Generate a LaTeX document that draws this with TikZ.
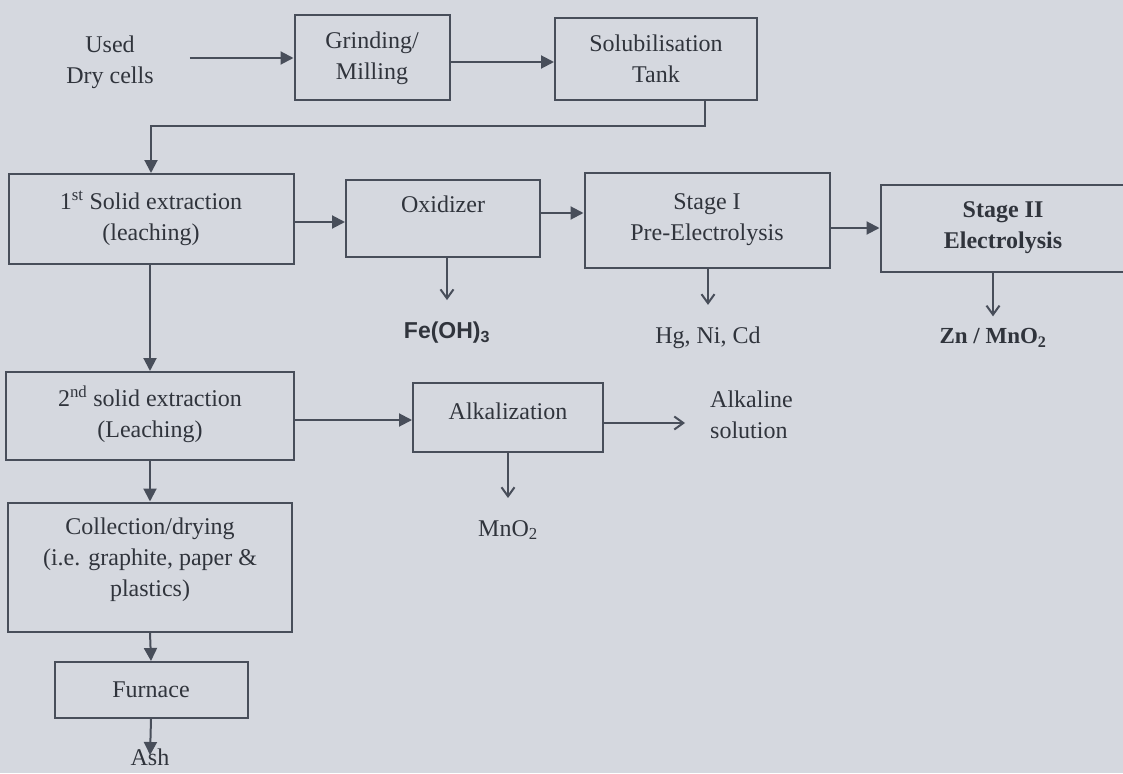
\documentclass[tikz,border=0pt]{standalone}
\usepackage{fontspec}
\setmainfont{Liberation Serif}
\newfontfamily\arialfont{Liberation Sans}
\usetikzlibrary{arrows.meta,calc}
\definecolor{bgc}{RGB}{213,216,223}
\definecolor{ink}{RGB}{72,78,90}
\definecolor{txt}{RGB}{48,52,60}
\tikzset{
  bx/.style={draw=ink, line width=2pt, align=center, inner sep=0pt, text=txt,
    font=\fontsize{24}{31}\selectfont},
  lbl/.style={align=center, inner sep=0pt, text=txt, font=\fontsize{24}{31}\selectfont},
  flow/.style={draw=ink, line width=2pt, -{Triangle[length=13pt,width=13pt]}},
  prod/.style={draw=ink, line width=2pt, -{Straight Barb[length=9pt,width=13pt,line width=2pt]}}
}
\begin{document}
\begin{tikzpicture}[x=1pt,y=-1pt]
\fill[bgc] (0,0) rectangle (1123,773);
\useasboundingbox (0,0) rectangle (1123,773);
% nodes
\node[lbl] (used) at (110,62) {Used\\Dry cells};
\node[bx, minimum width=155pt, minimum height=85pt] (grind) at (372,58) {Grinding/\\Milling};
\node[bx, minimum width=202pt, minimum height=82pt] (sol) at (656,59) {Solubilisation\\Tank};
\node[bx, minimum width=285pt, minimum height=90pt] (first) at (151,219) {1\textsuperscript{st} Solid extraction\\(leaching)\\[-25pt]};
\node[bx, minimum width=194pt, minimum height=77pt] (oxi) at (443,218) {Oxidizer\\[-3pt]};
\node[bx, minimum width=245pt, minimum height=95pt] (st1) at (707,220) {Stage I\\Pre-Electrolysis};
\node[bx, minimum width=245pt, minimum height=87pt, font=\fontsize{24}{31}\selectfont\bfseries] (st2) at (1003,228) {Stage II\\Electrolysis};
\node[lbl, font=\fontsize{23}{28}\selectfont\arialfont\bfseries] (feoh) at (447,333) {Fe(OH)\textsubscript{3}};
\node[lbl] (hg) at (708,338) {Hg, Ni, Cd};
\node[lbl, font=\fontsize{23}{28}\selectfont\bfseries] (zn) at (993,338) {Zn / MnO\textsubscript{2}};
\node[bx, minimum width=288pt, minimum height=88pt] (second) at (150,416) {2\textsuperscript{nd} solid extraction\\(Leaching)\\[-23pt]};
\node[bx, minimum width=190pt, minimum height=69pt] (alk) at (508,417) {Alkalization\\[-19pt]};
\node[lbl, align=left, anchor=west] (alksol) at (710,415) {Alkaline\\solution};
\node[lbl] (mno) at (508,530) {MnO\textsubscript{2}};
\node[bx, minimum width=284pt, minimum height=129pt] (coll) at (150,567) {Collection/drying\\(i.e. graphite, paper \&\\plastics)\\[-11pt]};
\node[bx, minimum width=193pt, minimum height=56pt] (furn) at (151,690) {Furnace};
\node[lbl] (ash) at (150,757) {Ash};
% connectors
\draw[flow, shorten <=36pt] (used.east |- grind.west) -- (grind.west);
\draw[flow] (grind.east |- 0,62) -- (sol.west |- 0,62);
\draw[flow] ([xshift=49pt]sol.south) -- ++(0,25) -| (first.north);
\draw[flow] (first.east |- 0,222) -- (oxi.west |- 0,222);
\draw[flow] (oxi.east |- 0,213) -- (st1.west |- 0,213);
\draw[flow] (st1.east |- st2.west) -- (st2.west);
\draw[prod, shorten >=22pt] (oxi.south -| feoh.north) -- (feoh.north);
\draw[prod, shorten >=22pt] (st1.south -| hg.north) -- (hg.north);
\draw[prod, shorten >=12pt] (st2.south -| zn.north) -- (zn.north);
\draw[flow] (first.south -| second.north) -- (second.north);
\draw[flow] (second.east |- 0,420) -- (alk.west |- 0,420);
\draw[prod, shorten >=25pt] (alk.east |- 0,423) -- (alksol.west |- 0,423);
\draw[prod, shorten >=22pt] (alk.south) -- (mno.north);
\draw[flow] (second.south) -- (coll.north);
\draw[flow] (coll.south) -- (furn.north);
\draw[flow, shorten >=2pt] (furn.south) -- (ash.center);
\end{tikzpicture}
\end{document}
